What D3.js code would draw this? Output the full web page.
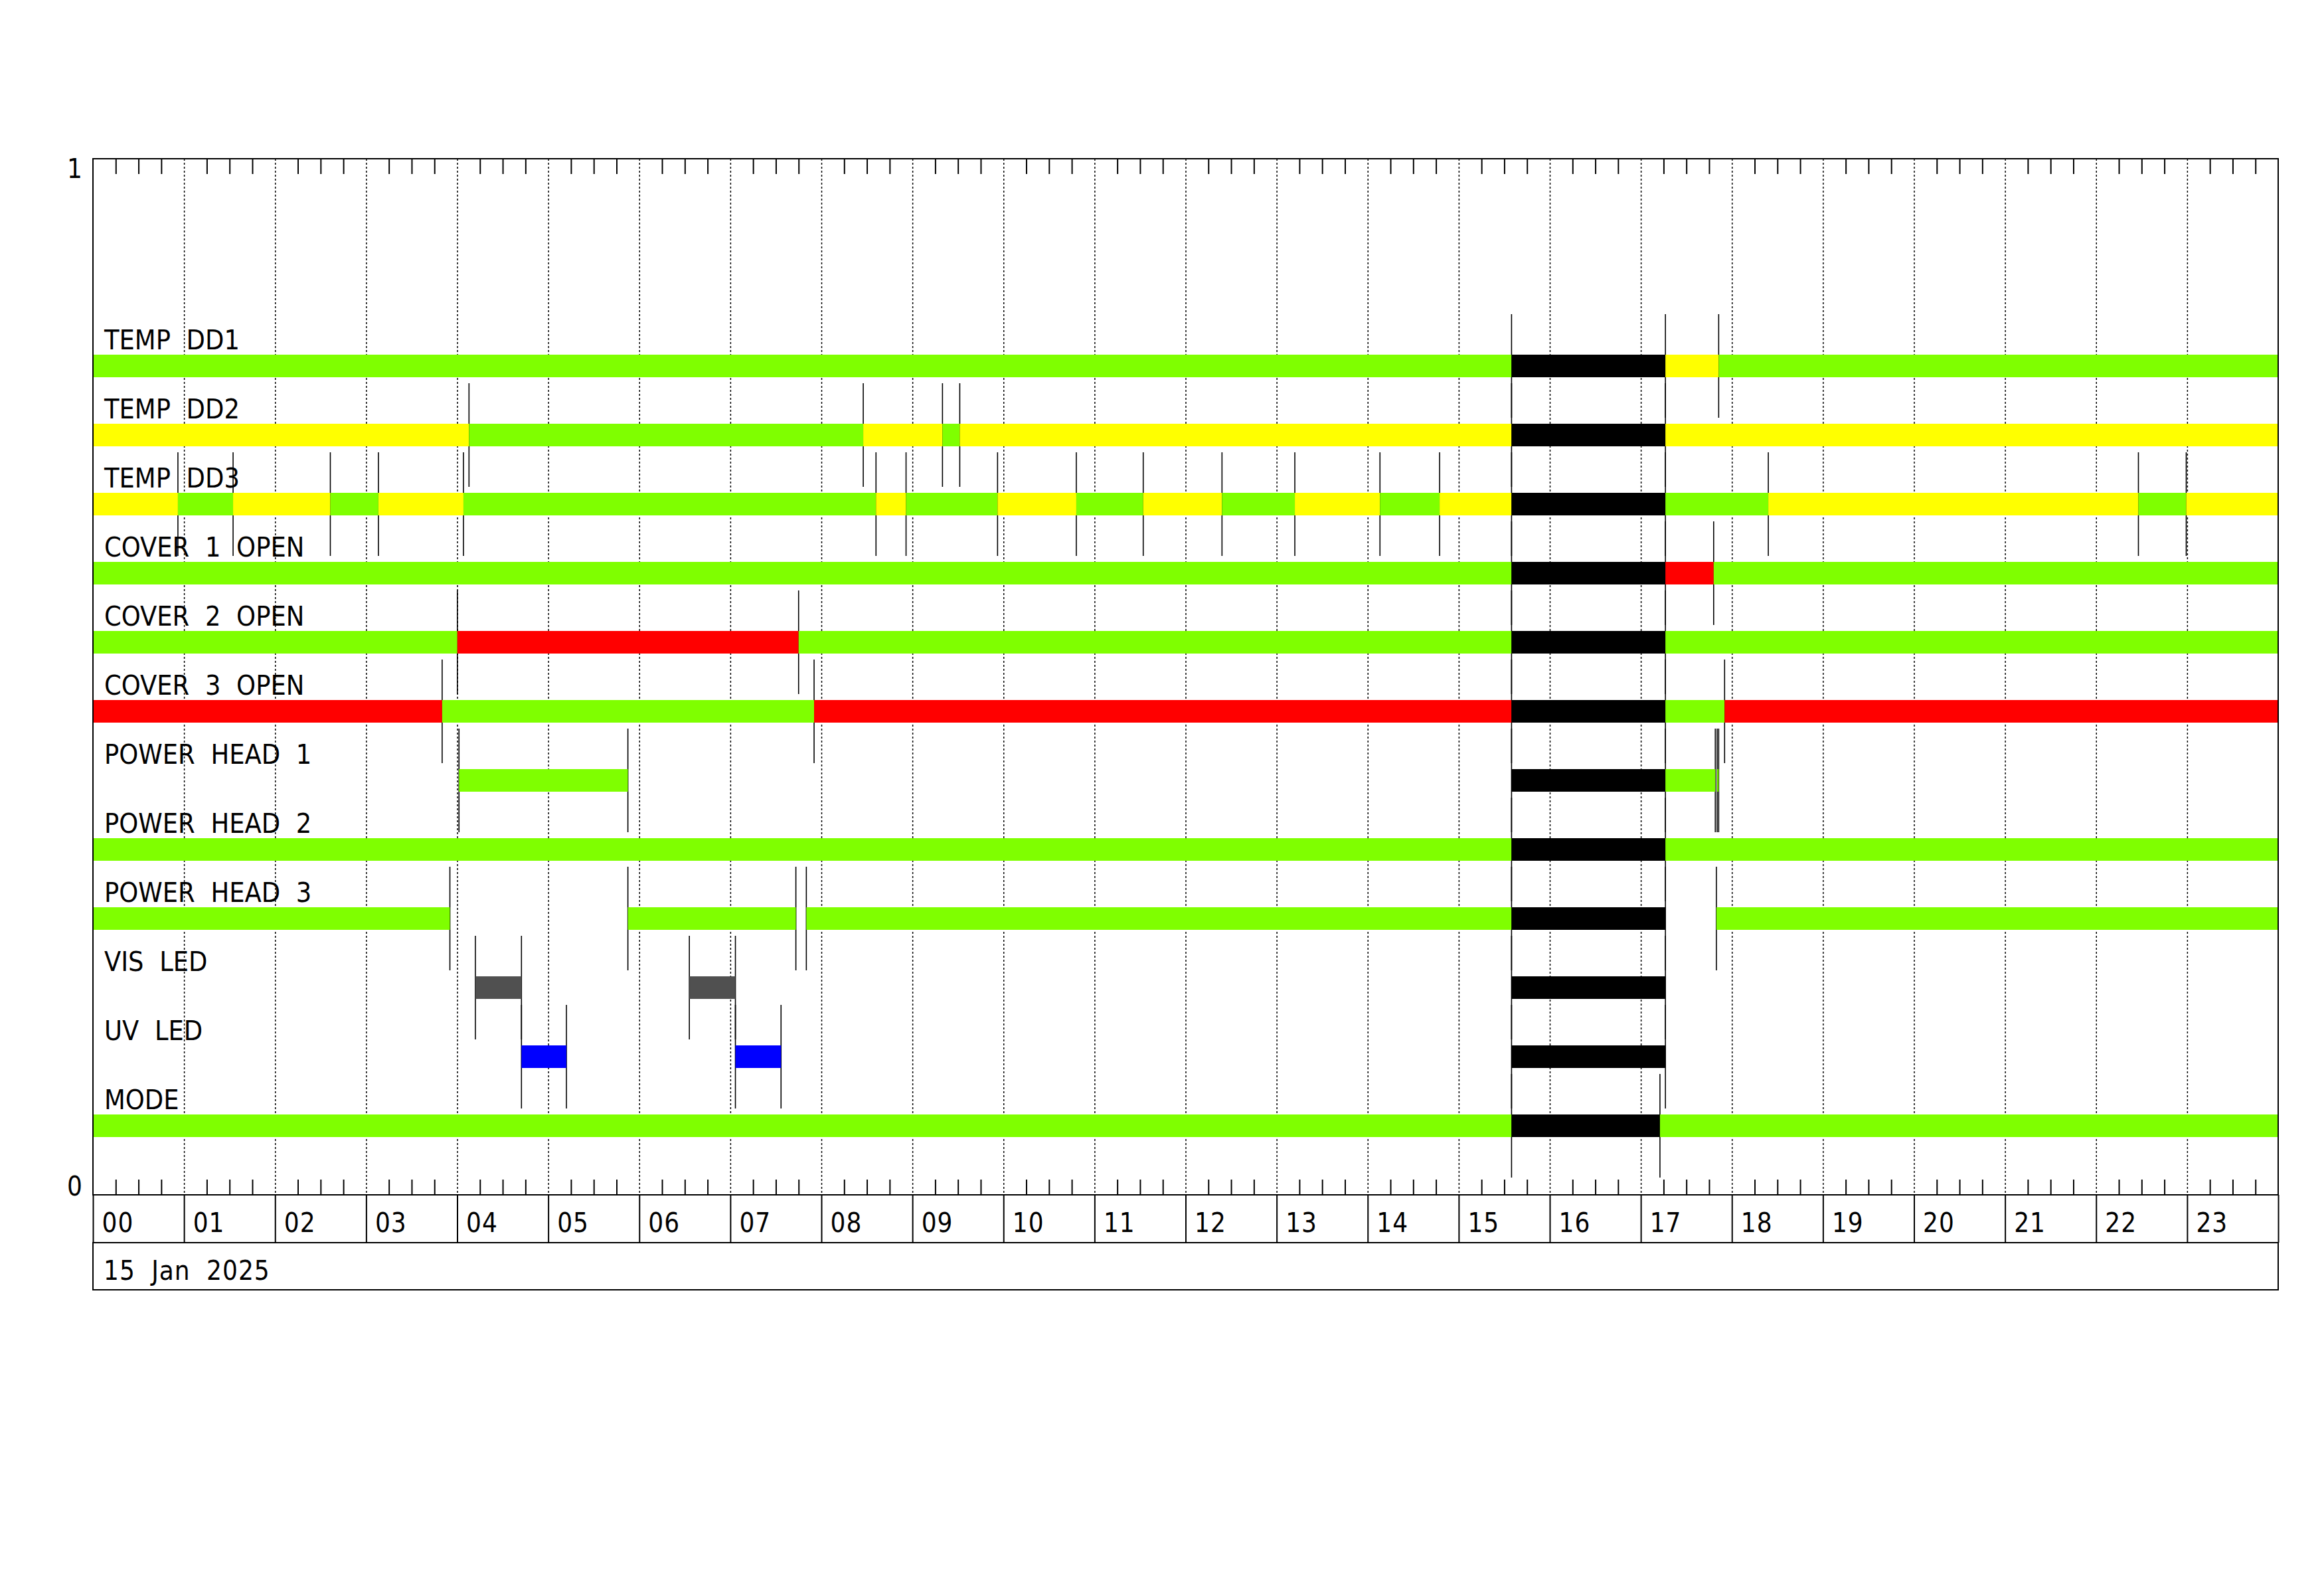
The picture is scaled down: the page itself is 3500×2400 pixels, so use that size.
<!DOCTYPE html>
<html><head><meta charset="utf-8">
<script src="https://cdn.jsdelivr.net/npm/d3@7"></script>
<style>
body{margin:0;background:#fff}
text{font-family:"DejaVu Sans Condensed","DejaVu Sans",sans-serif;font-stretch:condensed;fill:#000}
</style></head>
<body><svg id="c" width="3500" height="2400"></svg>
<script>
// ---------- data ----------
const rowNames = ["TEMP DD1","TEMP DD2","TEMP DD3","COVER 1 OPEN","COVER 2 OPEN","COVER 3 OPEN",
  "POWER HEAD 1","POWER HEAD 2","POWER HEAD 3","VIS LED","UV LED","MODE"];
// each entry: [start hour, state] ; state holds until next entry (or 24). null = no bar
const tempDD1 = [[0,"ok"],[15.58,"nodata"],[17.27,"warn"],[17.855,"ok"]];
const tempDD2 = [[0,"warn"],[4.13,"ok"],[8.46,"warn"],[9.33,"ok"],[9.52,"warn"],[15.58,"nodata"],[17.27,"warn"]];
const tempDD3 = [[0,"warn"],[0.933,"ok"],[1.539,"warn"],[2.607,"ok"],[3.135,"warn"],[4.069,"ok"],
  [8.60,"warn"],[8.93,"ok"],[9.935,"warn"],[10.80,"ok"],[11.535,"warn"],[12.40,"ok"],[13.20,"warn"],
  [14.135,"ok"],[14.79,"warn"],[15.58,"nodata"],[17.27,"ok"],[18.40,"warn"],[22.465,"ok"],[22.99,"warn"]];
const cover1 = [[0,"ok"],[15.58,"nodata"],[17.27,"alarm"],[17.80,"ok"]];
const cover2 = [[0,"ok"],[4.002,"alarm"],[7.75,"ok"],[15.58,"nodata"],[17.27,"ok"]];
const cover3 = [[0,"alarm"],[3.835,"ok"],[7.92,"alarm"],[15.58,"nodata"],[17.27,"ok"],[17.92,"alarm"]];
const powerHead1 = [[0,null],[4.02,"ok"],[5.875,null],[15.58,"nodata"],[17.27,"ok"],[17.818,null],[17.838,"ok"],[17.855,null]];
const powerHead2 = [[0,"ok"],[15.58,"nodata"],[17.27,"ok"]];
const powerHead3 = [[0,"ok"],[3.92,null],[5.875,"ok"],[7.72,null],[7.835,"ok"],[15.58,"nodata"],[17.27,null],[17.83,"ok"]];
const visLed = [[0,null],[4.20,"vis"],[4.706,null],[6.55,"vis"],[7.056,null],[15.58,"nodata"],[17.27,null]];
const uvLed = [[0,null],[4.706,"uv"],[5.20,null],[7.056,"uv"],[7.557,null],[15.58,"nodata"],[17.27,null]];
const mode = [[0,"ok"],[15.58,"nodata"],[17.21,"ok"]];
const rowData = [tempDD1,tempDD2,tempDD3,cover1,cover2,cover3,powerHead1,powerHead2,powerHead3,visLed,uvLed,mode];

const hourLabels = ["00","01","02","03","04","05","06","07","08","09","10","11",
  "12","13","14","15","16","17","18","19","20","21","22","23"];
const yTickValues = [0,1];
const yTickLabels = ["0","1"];
const dateLabel = "15 Jan 2025";

// ---------- styles ----------
const stateColor = {ok:"#7fff00", warn:"#ffff00", alarm:"#ff0000", nodata:"#000000", vis:"#505050", uv:"#0000ff"};

// ---------- layout ----------
const L = 140, R = 3431, T = 239, B = 1799;
const hourRowH = 72, dateRowH = 71;
const barH = 34, markHalf = 78;
const svg = d3.select("#c");
const x = d3.scaleLinear().domain([0,24]).range([L,R]);
const y = d3.scaleLinear().domain([0,1]).range([B,T]);
const nRows = rowNames.length;
const rowValue = i => (nRows - i) / 15;

// dotted hour grid
const grid = svg.append("g").attr("transform",`translate(0,${T})`)
  .call(d3.axisBottom(x).tickValues(d3.range(1,24)).tickSize(B-T).tickFormat(""));
grid.select(".domain").remove();
grid.selectAll("line").attr("stroke","#000").attr("stroke-width",1.5).attr("stroke-dasharray","3,3");

// minor ticks top & bottom (every 15 min)
const minor = d3.range(0,24,0.25).filter(v => v % 1 !== 0);
const tTop = svg.append("g").attr("transform",`translate(0,${T})`)
  .call(d3.axisBottom(x).tickValues(minor).tickSize(23).tickFormat(""));
tTop.select(".domain").remove();
const tBot = svg.append("g").attr("transform",`translate(0,${B})`)
  .call(d3.axisTop(x).tickValues(minor).tickSize(23).tickFormat(""));
tBot.select(".domain").remove();
svg.selectAll(".tick line").filter(function(){return !this.getAttribute("stroke-dasharray");})
  .attr("stroke","#000").attr("stroke-width",2);

// build segments
const segs = [], marks = [];
rowData.forEach((rd,i) => {
  rd.forEach((d,k) => {
    const end = k < rd.length-1 ? rd[k+1][0] : 24;
    if (d[1]) segs.push({row:i, s:d[0], e:end, st:d[1]});
    marks.push({row:i, t:d[0]});
  });
});

// transition markers
svg.append("g").selectAll("line").data(marks).join("line")
  .attr("x1",d=>x(d.t)).attr("x2",d=>x(d.t))
  .attr("y1",d=>y(rowValue(d.row))-markHalf).attr("y2",d=>y(rowValue(d.row))+markHalf)
  .attr("stroke","#000").attr("stroke-width",1.6);

// bars
svg.append("g").selectAll("rect").data(segs).join("rect")
  .attr("x",d=>x(d.s)).attr("width",d=>x(d.e)-x(d.s))
  .attr("y",d=>y(rowValue(d.row))-barH/2).attr("height",barH)
  .attr("fill",d=>stateColor[d.st]);

// row labels
svg.append("g").selectAll("text").data(rowNames).join("text")
  .attr("x",L+17).attr("y",(d,i)=>y(rowValue(i))-barH/2-8)
  .attr("font-size",41).attr("word-spacing",12).text(d=>d);

// frame
svg.append("rect").attr("x",L).attr("y",T).attr("width",R-L).attr("height",B-T)
  .attr("fill","none").attr("stroke","#000").attr("stroke-width",2);

// hour label row
const hx = svg.append("g").attr("transform",`translate(0,${B})`)
  .call(d3.axisBottom(x).tickValues(d3.range(0,25)).tickSize(hourRowH)
    .tickFormat(v => v < 24 ? hourLabels[v] : ""));
hx.select(".domain").remove();
hx.selectAll("line").attr("stroke","#000").attr("stroke-width",2);
hx.selectAll("text").attr("text-anchor","start").attr("x",13).attr("y",56).attr("dy",null)
  .attr("font-size",40).attr("font-family",null).attr("fill","#000").attr("letter-spacing",1);
svg.append("line").attr("x1",L).attr("x2",R).attr("y1",B+hourRowH).attr("y2",B+hourRowH)
  .attr("stroke","#000").attr("stroke-width",2);

// date row
svg.append("rect").attr("x",L).attr("y",B+hourRowH).attr("width",R-L).attr("height",dateRowH)
  .attr("fill","none").attr("stroke","#000").attr("stroke-width",2);
svg.append("text").attr("x",L+16).attr("y",B+hourRowH+56).attr("font-size",40)
  .attr("word-spacing",12).attr("letter-spacing",1).text(dateLabel);

// y axis labels
const ya = svg.append("g").attr("transform",`translate(${L},0)`)
  .call(d3.axisLeft(y).tickValues(yTickValues).tickSize(0).tickPadding(16)
    .tickFormat((v,i)=>yTickLabels[i]));
ya.select(".domain").remove();
ya.selectAll("text").attr("font-size",40).attr("font-family",null).attr("fill","#000")
  .attr("dy",v => v === 1 ? "0.72em" : "0em");
</script></body></html>
